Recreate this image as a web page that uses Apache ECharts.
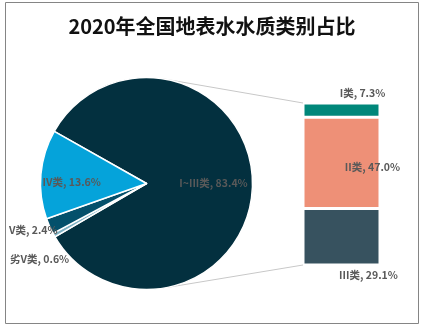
<!DOCTYPE html>
<html>
<head>
<meta charset="utf-8">
<script src="https://cdn.jsdelivr.net/npm/echarts@6/dist/echarts.min.js"></script>
<style>html,body{margin:0;padding:0;background:#fff;}#c{width:424px;height:327px;}</style>
</head>
<body>
<div id="c"></div>
<script>
const titleText = '2020年全国地表水水质类别占比';
const pieNames = ['I~III类', '劣V类', 'V类', 'IV类'];
const pieValues = [83.4, 0.6, 2.4, 13.6];
const barNames = ['III类', 'II类', 'I类'];
const barValues = [29.1, 47.0, 7.3];

const pieColors = ['#03303F', '#7FB2C4', '#04506B', '#05A3DA'];
const barColors = ['#37525F', '#EE9077', '#00877A'];
const labelFont = {fontFamily: '"Noto Sans CJK SC", sans-serif', fontSize: 10.5, fontWeight: 'bold', color: '#595959'};

const cx = 146.5, cy = 183.5, R = 106;
const gridL = 303, gridT = 103, gridW = 77, gridH = 162;
const pieNudge = [[11, 0], [-58, 48], [-62, 24], [-19, 3]];
const barLabelCfg = [
  {position: 'bottom', offset: [27, 0]},
  {position: 'inside', offset: [31, 4]},
  {position: 'top', offset: [21, 0]}
];

function fmt(name, v) { return name + ', ' + v.toFixed(1) + '%'; }

const chart = echarts.init(document.getElementById('c'), null, {renderer: 'canvas'});

const barSeries = barNames.map((n, i) => ({
  type: 'bar', name: n, stack: 'total', barWidth: '100%',
  data: [barValues[i]],
  itemStyle: {color: barColors[i], borderColor: '#fff', borderWidth: 1.5},
  label: Object.assign({show: true, formatter: () => fmt(n, barValues[i])}, labelFont, barLabelCfg[i]),
  silent: true, animation: false
}));

const a1 = 81 * Math.PI / 180, a2 = -78.6 * Math.PI / 180;
const top1 = [cx + R * Math.cos(a1), cy - R * Math.sin(a1)];
const bot1 = [cx + R * Math.cos(a2), cy - R * Math.sin(a2)];

chart.setOption({
  animation: false,
  title: {
    text: titleText, left: 'center', top: 11,
    textStyle: {fontFamily: '"Noto Sans CJK SC", serif', fontSize: 20, fontWeight: 'bold', color: '#111'}
  },
  grid: {left: gridL, top: gridT, width: gridW, height: gridH},
  xAxis: {type: 'category', data: ['I~III类'], show: false},
  yAxis: {type: 'value', min: 0, max: pieValues[0], show: false},
  graphic: [
    {type: 'rect', shape: {x: 5.5, y: 2.5, width: 413, height: 321}, style: {fill: 'none', stroke: '#858585', lineWidth: 1}, z: 100},
    {type: 'line', shape: {x1: top1[0], y1: top1[1], x2: gridL, y2: gridT}, style: {stroke: '#C8C8C8', lineWidth: 1}},
    {type: 'line', shape: {x1: bot1[0], y1: bot1[1], x2: gridL, y2: gridT + gridH}, style: {stroke: '#C8C8C8', lineWidth: 1}}
  ],
  series: [
    {
      type: 'pie', center: [cx, cy], radius: R, startAngle: 150.5, clockwise: true,
      avoidLabelOverlap: false, silent: true,
      data: pieNames.map((n, i) => ({name: n, value: pieValues[i], itemStyle: {color: pieColors[i]}})),
      itemStyle: {borderColor: '#fff', borderWidth: 1.5},
      label: Object.assign({show: true, position: 'inside', formatter: p => fmt(p.name, p.value)}, labelFont),
      labelLine: {show: false},
      labelLayout: p => ({dx: pieNudge[p.dataIndex][0], dy: pieNudge[p.dataIndex][1]})
    }
  ].concat(barSeries)
});
</script>
</body>
</html>
